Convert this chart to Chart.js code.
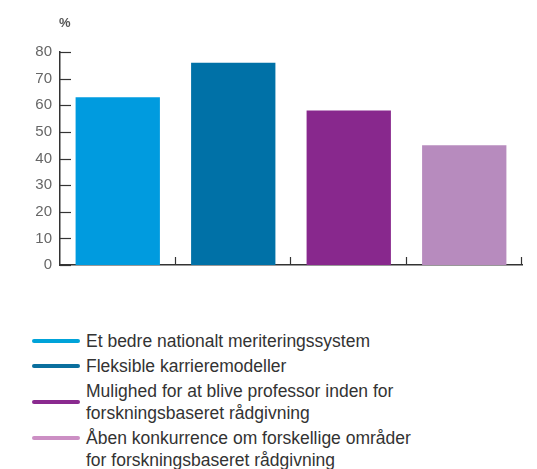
<!DOCTYPE html>
<html>
<head>
<meta charset="utf-8">
<script src="https://cdn.jsdelivr.net/npm/chart.js@4/dist/chart.umd.min.js"></script>
<style>
    body { margin: 0; background: #fff; font-family: "Liberation Sans", Arial, sans-serif; }
    #wrap { position: relative; width: 537px; height: 469px; }
    #chartBox { position: absolute; left: 0; top: 0; width: 537px; height: 290px; }
    #legend { position: absolute; left: 32px; top: 330px; margin: 0; padding: 0; list-style: none; }
    #legend li { position: relative; padding-left: 54px; font-size: 17.5px; line-height: 22px; color: #333; margin-bottom: 3px; white-space: nowrap; }
    #legend li span.sw { position: absolute; left: 0; top: 50%; width: 48px; height: 4px; margin-top: -2px; border-radius: 2px; }
    #legend li.first span.sw { top: 11px; }
</style>
</head>
<body>
<div id="wrap">
    <div id="chartBox"><canvas id="barChart" width="537" height="290"></canvas></div>
    <ul id="legend"></ul>
</div>
<script>
const categories = [
    ['Et bedre nationalt meriteringssystem'],
    ['Fleksible karrieremodeller'],
    ['Mulighed for at blive professor inden for', 'forskningsbaseret rådgivning'],
    ['Åben konkurrence om forskellige områder', 'for forskningsbaseret rådgivning']
];
const values = [63, 76, 58, 45];
const barColors = ['#009bdf', '#0071a7', '#88288d', '#b78bbe'];
const legendColors = ['#00a3d9', '#0a6f9e', '#8a2a8f', '#cc8fc4'];
const yTicks = [0, 10, 20, 30, 40, 50, 60, 70, 80];

// inward tick marks on both axes + the "%" unit label
const axisMarks = {
    id: 'axisMarks',
    afterDraw(chart) {
        const ctx = chart.ctx;
        const x = chart.scales.x;
        const y = chart.scales.y;
        ctx.save();
        ctx.strokeStyle = '#333';
        ctx.lineWidth = 1.2;
        y.ticks.forEach((t, i) => {
            const py = Math.round(y.getPixelForTick(i)) + 0.5;
            ctx.beginPath();
            ctx.moveTo(x.left, py);
            ctx.lineTo(x.left + 11, py);
            ctx.stroke();
        });
        const w = (x.right - x.left) / categories.length;
        for (let i = 1; i <= categories.length; i++) {
            const px = Math.round(x.left + i * w) - 0.5;
            ctx.beginPath();
            ctx.moveTo(px, y.bottom);
            ctx.lineTo(px, y.bottom - 8);
            ctx.stroke();
        }
        ctx.fillStyle = '#555';
        ctx.font = 'bold 13px "Liberation Sans", Arial, sans-serif';
        ctx.textBaseline = 'middle';
        ctx.fillText('%', 59, 23);
        ctx.restore();
    }
};

const chart = new Chart(document.getElementById('barChart').getContext('2d'), {
    type: 'bar',
    data: {
        labels: categories.map(c => c.join(' ')),
        datasets: [{
            data: values,
            backgroundColor: barColors,
            barPercentage: 0.73,
            categoryPercentage: 1
        }]
    },
    options: {
        responsive: false,
        animation: false,
        events: [],
        layout: { padding: { top: 52, right: 15, bottom: 25, left: 0 } },
        plugins: { legend: { display: false }, tooltip: { enabled: false } },
        scales: {
            x: {
                ticks: { display: false },
                grid: { display: false, drawTicks: false },
                border: { display: true, color: '#333', width: 1.5 },
                afterFit: s => { s.height = 0; }
            },
            y: {
                min: 0,
                max: 80,
                afterBuildTicks: s => { s.ticks = yTicks.map(v => ({ value: v })); },
                ticks: {
                    padding: 8,
                    color: '#666',
                    font: { family: '"Liberation Sans", Arial, sans-serif', size: 15 }
                },
                grid: { display: false, drawTicks: false },
                border: { display: true, color: '#333', width: 1.5 },
                afterFit: s => { s.width = 60; }
            }
        }
    },
    plugins: [axisMarks]
});

// HTML legend; the last entry has its swatch level with its first line, as in the source
const legend = document.getElementById('legend');
categories.forEach((lines, i) => {
    const li = document.createElement('li');
    if (i === categories.length - 1) li.className = 'first';
    const sw = document.createElement('span');
    sw.className = 'sw';
    sw.style.background = legendColors[i];
    li.appendChild(sw);
    lines.forEach((line, j) => {
        if (j > 0) li.appendChild(document.createElement('br'));
        li.appendChild(document.createTextNode(line));
    });
    legend.appendChild(li);
});
</script>
</body>
</html>
